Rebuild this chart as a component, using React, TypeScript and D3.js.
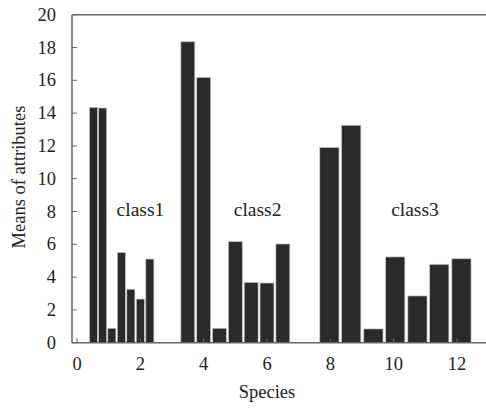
import React from "react";
import * as d3 from "d3";

const class1Pos = [0.52, 0.81, 1.1, 1.4, 1.7, 2.0, 2.3];
const class1Values = [14.35, 14.31, 0.88, 5.51, 3.26, 2.66, 5.1];
const class2Pos = [3.5, 4.0, 4.5, 5.0, 5.5, 6.0, 6.5];
const class2Values = [18.35, 16.18, 0.88, 6.16, 3.68, 3.64, 6.02];
const class3Pos = [7.97, 8.66, 9.36, 10.05, 10.75, 11.44, 12.14];
const class3Values = [11.91, 13.26, 0.84, 5.23, 2.85, 4.78, 5.12];
const classLabels = ["class1", "class2", "class3"];
const classLabelX = [1.25, 4.95, 9.92];
const classLabelY = 7.75;
const xTicks = [0, 2, 4, 6, 8, 10, 12];
const yTicks = [0, 2, 4, 6, 8, 10, 12, 14, 16, 18, 20];

const W = 486;
const H = 409;
const FONT = "Liberation Serif, Times New Roman, Times, DejaVu Serif, serif";

export default function App() {
  const x = d3.scaleLinear().domain([0, 12]).range([77, 457]);
  const y = d3.scaleLinear().domain([0, 20]).range([342.7, 14.7]);
  const left = 72;
  const right = 486;

  const groups = [
    { pos: class1Pos, vals: class1Values },
    { pos: class2Pos, vals: class2Values },
    { pos: class3Pos, vals: class3Values },
  ];

  const axisColor = "#666";
  const txt = { fontFamily: FONT };

  return (
    <svg
      width={W}
      height={H}
      style={{ position: "absolute", left: 0, top: 0, fontFamily: FONT }}
    >
      <rect x={0} y={0} width={W} height={H} fill="#fff" />
      {groups.map((g, gi) => {
        const spacing = g.pos[1] - g.pos[0];
        const bw = x(spacing * 0.88) - x(0);
        return g.pos.map((p, i) => (
          <rect
            key={`${gi}-${i}`}
            x={x(p) - bw / 2}
            y={y(g.vals[i])}
            width={bw}
            height={y(0) - y(g.vals[i])}
            fill="#2b292a"
            stroke="#c8c8c8"
            strokeWidth={0.7}
          />
        ));
      })}
      <line x1={left} x2={right} y1={y(20)} y2={y(20)} stroke={axisColor} strokeWidth={1.5} />
      <line x1={left} x2={right} y1={y(0)} y2={y(0)} stroke={axisColor} strokeWidth={1.5} />
      <line x1={left} x2={left} y1={y(20)} y2={y(0)} stroke={axisColor} strokeWidth={1.5} />
      {yTicks.map((t) => (
        <g key={`y${t}`}>
          <line x1={left} x2={left + 5} y1={y(t)} y2={y(t)} stroke={axisColor} strokeWidth={1} />
          <text x={56} y={y(t)} dy="0.33em" textAnchor="end" fontSize={18.5} fill="#222" style={txt}>
            {t}
          </text>
        </g>
      ))}
      {xTicks.map((t) => (
        <g key={`x${t}`}>
          <line x1={x(t)} x2={x(t)} y1={y(0)} y2={y(0) - 4.5} stroke={axisColor} strokeWidth={1} />
          <text x={x(t)} y={370} textAnchor="middle" fontSize={18.5} fill="#222" style={txt}>
            {t}
          </text>
        </g>
      ))}
      {classLabels.map((c, i) => (
        <text key={c} x={x(classLabelX[i])} y={y(classLabelY)} fontSize={19.5} fill="#222" style={txt}>
          {c}
        </text>
      ))}
      <text x={x(6)} y={398} textAnchor="middle" fontSize={18.5} fill="#222" style={txt}>
        Species
      </text>
      <text
        transform={`translate(25,177) rotate(-90)`}
        textAnchor="middle"
        fontSize={18.5}
        fill="#222"
        style={txt}
      >
        Means of attributes
      </text>
    </svg>
  );
}
